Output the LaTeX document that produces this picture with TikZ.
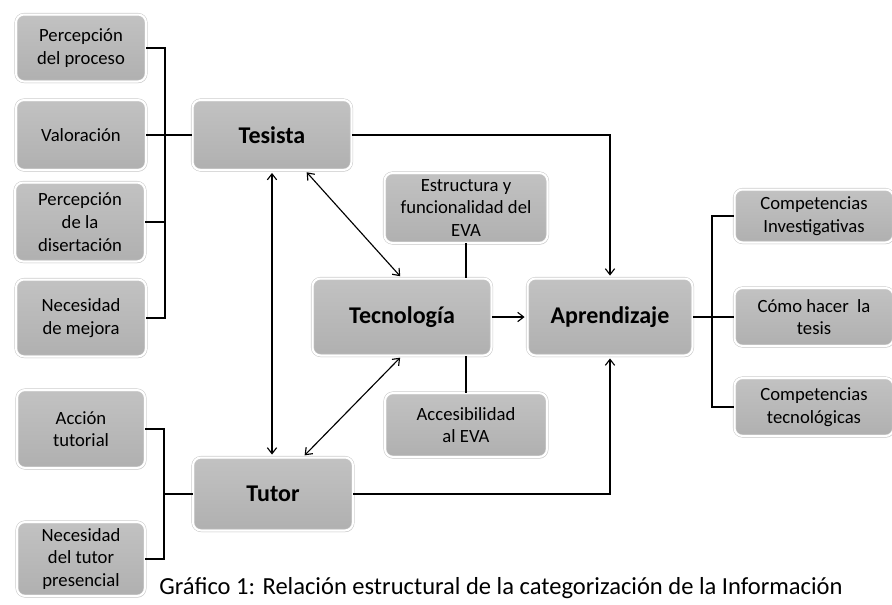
\documentclass[tikz,border=0pt]{standalone}
\usepackage{fontspec}
\setmainfont{Carlito}
\usetikzlibrary{shadows, arrows.meta}

\begin{document}
\begin{tikzpicture}[x=0.75pt, y=-0.75pt,
    box/.style={rectangle, rounded corners=6pt, draw=black!20, double=white,
        double distance=1.5pt, line width=0.4pt, top color=black!24, bottom color=black!31,
        drop shadow={shadow xshift=0.6pt, shadow yshift=-1.2pt, opacity=0.25},
        align=center, inner sep=0pt, font=\fontsize{14}{17}\selectfont},
    title/.style={box, font=\fontsize{18}{20}\selectfont\bfseries},
    boxsize/.style 2 args={minimum width=#1*0.75pt, minimum height=#2*0.75pt},
    link/.style={line width=0.85pt},
    arr/.style={link, -{Straight Barb[length=4.5pt, width=7pt]}, shorten >= 2pt},
    darr/.style={link, {Straight Barb[length=4.5pt, width=7pt]}-{Straight Barb[length=4.5pt, width=7pt]},
        shorten >= 2pt, shorten <= 2pt}]

    \useasboundingbox (0,0) rectangle (892,604);

    % left column
    \node [box, boxsize={130}{67}] (pp) at (81,48) {Percepción\\del proceso};
    \node [box, boxsize={130}{70}] (val) at (81,135) {Valoración};
    \node [box, boxsize={130}{79}] (pd) at (80,222) {Percepción\\de la\\disertación};
    \node [box, boxsize={130}{77}] (nm) at (81,318) {Necesidad\\de mejora};
    \node [box, boxsize={128}{78}] (act) at (81,429) {Acción\\tutorial};
    \node [box, boxsize={128}{74}] (ntp) at (81,559) {Necesidad\\del tutor\\presencial};

    % main nodes
    \node [title, boxsize={159}{70}] (tesista) at (272,135) {Tesista};
    \node [title, boxsize={160}{73}] (tutor) at (273,494) {Tutor};
    \node [title, boxsize={179}{77}] (tec) at (402,317) {Tecnología};
    \node [title, boxsize={165}{77}] (apr) at (610,317) {Aprendizaje};
    \node [box, boxsize={163}{70}] (estr) at (466,208) {Estructura y\\funcionalidad del\\EVA};
    \node [box, boxsize={162}{64}] (acc) at (466,425) {Accesibilidad\\al EVA};

    % right column
    \node [box, boxsize={159}{53}] (ci) at (814,216) {Competencias\\Investigativas};
    \node [box, boxsize={159}{58}] (co) at (814,317) {Cómo hacer~ la\\tesis};
    \node [box, boxsize={159}{58}] (ct) at (814,407) {Competencias\\tecnológicas};

    \node [font=\fontsize{18.4}{20}\selectfont, inner sep=0pt] (cap) at (501,588)
        {Gráfico 1: Relación estructural de la categorización de la Información};

    \coordinate (lb) at (165,135);
    \coordinate (lt) at (164,494);
    \coordinate (rb) at (712,317);

    \draw[link] (pp.east) -| (lb |- nm.east) -- (nm.east);
    \draw[link] (pd.east) -- (lb |- pd.east);
    \draw[link] (val.east) -- (tesista.west);
    \draw[link] (act.east) -| (lt |- ntp.east) -- (ntp.east);
    \draw[link] (lt) -- (tutor.west);
    \draw[link] (ci.west) -| (rb |- ct.west) -- (ct.west);
    \draw[link] (apr.east) -- (co.west);

    \draw[arr] (tesista.east) -| (apr.north);
    \draw[arr] (tutor.east) -| (apr.south);
    \draw[arr] (tec.east) -- (apr.west);
    \draw[darr] (tesista.south) -- (tesista.south |- tutor.north);
    \draw[darr] (tesista.313) -- (tec.north);
    \draw[darr] (tec.south) -- (tutor.51);
    \draw[link] (estr.south) -- (estr.south |- tec.north);
    \draw[link] (acc.north) -- (acc.north |- tec.south);

\end{tikzpicture}
\end{document}
